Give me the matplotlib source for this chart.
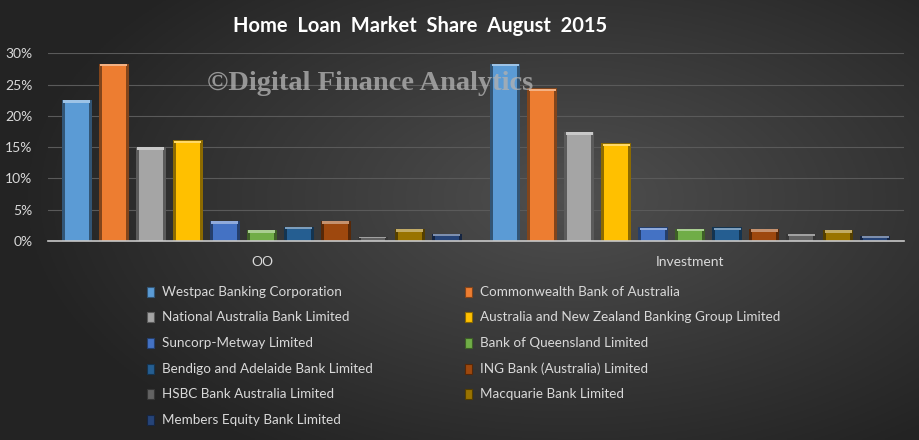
import numpy as np
import matplotlib.pyplot as plt
import matplotlib.colors as mcolors
from matplotlib.patches import Rectangle

# 数据
categories = ["OO", "Investment"]
banks = [
    "Westpac Banking Corporation",
    "Commonwealth Bank of Australia",
    "National Australia Bank Limited",
    "Australia and New Zealand Banking Group Limited",
    "Suncorp-Metway Limited",
    "Bank of Queensland Limited",
    "Bendigo and Adelaide Bank Limited",
    "ING Bank (Australia) Limited",
    "HSBC Bank Australia Limited",
    "Macquarie Bank Limited",
    "Members Equity Bank Limited",
]
share_oo = [22.5, 28.3, 15.0, 16.1, 3.2, 1.75, 2.3, 3.2, 0.6, 1.9, 1.2]
share_inv = [28.3, 24.4, 17.4, 15.6, 2.2, 2.0, 2.2, 1.9, 1.1, 1.75, 0.8]
bank_colors = ["#5B9BD5", "#ED7D31", "#A5A5A5", "#FFC000", "#4472C4", "#70AD47",
               "#255E91", "#9E480E", "#636363", "#997300", "#264478"]
y_ticks = [0, 5, 10, 15, 20, 25, 30]

plt.rcParams['font.family'] = ['Lato', 'DejaVu Sans']
label_color = "#d9d9d9"


def shade(color, f):
    r, g, b = mcolors.to_rgb(color)
    if f < 1:
        return (r * f, g * f, b * f)
    return (r + (1 - r) * (f - 1), g + (1 - g) * (f - 1), b + (1 - b) * (f - 1))


fig = plt.figure(figsize=(9.2, 4.4), dpi=100)

# 背景渐变
bg = fig.add_axes([0, 0, 1, 1], zorder=-10)
xx, yy = np.meshgrid(np.linspace(0, 1, 400), np.linspace(0, 1, 200))
d = np.sqrt(((xx - 0.62) / 0.7) ** 2 + ((yy - 0.55) / 0.8) ** 2)
val = np.clip(0.31 - 0.2 * d, 0.14, 0.31)
img = np.dstack([val, val, val])
bg.imshow(img, aspect='auto', extent=[0, 1, 0, 1], origin='lower')
bg.axis('off')

ax = fig.add_axes([0.052, 0.452, 0.931, 0.427])
ax.patch.set_alpha(0)

n = len(banks)
step = 0.0864
width = 0.07
x = np.arange(len(categories))
values = np.array([share_oo, share_inv])

for i in range(n):
    pos = x + (i - (n - 1) / 2) * step
    h = values[:, i]
    col = bank_colors[i]
    # 外框（暗边）
    ax.bar(pos, h, width, color=shade(col, 0.55), zorder=3)
    # 主体
    inset = np.minimum(0.4, h * 0.3)
    ax.bar(pos, h - inset, width * 0.8, color=col, zorder=4)
    # 顶部高光
    ax.bar(pos, inset * 0.9, width * 0.9, bottom=h - inset, color=shade(col, 1.4), zorder=5)

ax.set_xlim(-0.5, 1.5)
ax.set_ylim(0, 30)
ax.set_yticks(y_ticks)
ax.set_yticklabels([f"{t}%" for t in y_ticks], color=label_color, fontsize=10)
ax.set_xticks(x)
ax.set_xticklabels(categories, color=label_color, fontsize=10)
ax.tick_params(length=0)
ax.tick_params(axis='y', pad=11)
ax.tick_params(axis='x', pad=11)
ax.yaxis.grid(True, color="#5a5a5a", linewidth=0.8, zorder=0)
ax.set_axisbelow(True)
for s in ["top", "right", "left"]:
    ax.spines[s].set_visible(False)
ax.spines["bottom"].set_color("#c8c8c8")
ax.spines["bottom"].set_linewidth(1.2)
ax.spines["bottom"].set_zorder(6)

fig.text(0.457, 0.94, "Home  Loan  Market  Share  August  2015", color="white",
         fontsize=14.5, fontweight='bold', ha='center', va='center')
fig.text(0.402, 0.81, "©Digital Finance Analytics", color="#b0b0b0", alpha=0.8,
         fontsize=20.5, fontweight='bold', family='Liberation Serif', ha='center', va='center',
         zorder=20)

# 图例（两列，按行排列）
row_y = [292, 317, 343, 369, 394, 420]
col_x = [150, 468]
for i, name in enumerate(banks):
    r, c = divmod(i, 2)
    px, py = col_x[c], row_y[r]
    fy = 1 - py / 440
    fig.patches.append(Rectangle((px / 920 - 0.003, fy - 0.011), 0.0075, 0.022,
                                 transform=fig.transFigure, facecolor=bank_colors[i],
                                 edgecolor=shade(bank_colors[i], 0.55), linewidth=0.8))
    fig.text((px + 12) / 920, fy, name, color=label_color, fontsize=9.7,
             ha='left', va='center')

fig.savefig("out.png", dpi=100)
